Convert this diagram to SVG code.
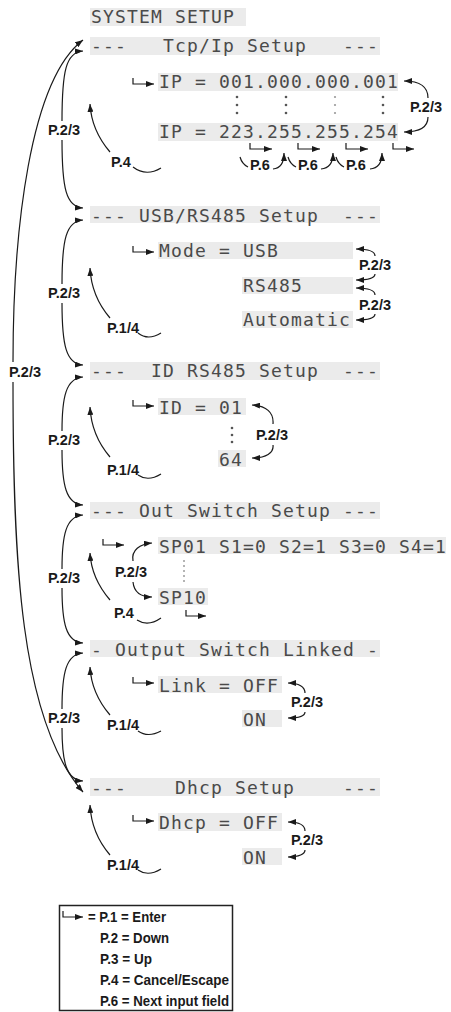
<svg xmlns="http://www.w3.org/2000/svg" width="451" height="1012" viewBox="0 0 451 1012" xml:space="preserve">
<defs>
<marker id="ah" markerWidth="8" markerHeight="6" refX="8" refY="3" orient="auto" markerUnits="userSpaceOnUse"><path d="M0,0 L8,3 L0,6 z" fill="#1a1a1a"/></marker>
<style>
.bar{fill:#ebebeb}
.lcd{font-family:"DejaVu Sans Mono","Liberation Mono",monospace;font-size:18px;letter-spacing:1.16px;fill:#4a4a4a;white-space:pre}
.lbl{font-family:"Liberation Sans",Arial,sans-serif;font-weight:bold;font-size:14.5px;fill:#1a1a1a}
.mid{text-anchor:middle}
.c{fill:none;stroke:#1a1a1a;stroke-width:1.2}
.a{marker-end:url(#ah)}
.dot{fill:#555}
</style>
</defs>
<rect width="451" height="1012" fill="#ffffff"/>

<g id="title"><rect class="bar" x="90" y="8" width="156" height="18"/><text class="lcd" x="91" y="23">SYSTEM SETUP</text></g>

<g id="tcp-header"><rect class="bar" x="90" y="37" width="290" height="18"/><text class="lcd" x="91" y="52">---   Tcp/Ip Setup   ---</text></g>
<g id="ip-first"><rect class="bar" x="158" y="73" width="240" height="18"/><text class="lcd" x="159" y="88">IP = 001.000.000.001</text></g>
<g id="ip-dots">
<circle class="dot" cx="237" cy="97" r="1.3"/><circle class="dot" cx="237" cy="105" r="1.3"/><circle class="dot" cx="237" cy="113" r="1.3"/>
<circle class="dot" cx="286" cy="97" r="1.3"/><circle class="dot" cx="286" cy="105" r="1.3"/><circle class="dot" cx="286" cy="113" r="1.3"/>
<circle class="dot" cx="335" cy="97" r="1.1" fill-opacity="0.6"/><circle class="dot" cx="335" cy="105" r="1.1" fill-opacity="0.6"/><circle class="dot" cx="335" cy="113" r="1.1" fill-opacity="0.6"/>
<circle class="dot" cx="383" cy="97" r="1.3"/><circle class="dot" cx="383" cy="105" r="1.3"/><circle class="dot" cx="383" cy="113" r="1.3"/>
</g>
<g id="ip-last"><rect class="bar" x="158" y="123" width="240" height="18"/><text class="lcd" x="159" y="138">IP = 223.255.255.254</text></g>

<g id="usb-header"><rect class="bar" x="90" y="206" width="290" height="17"/><text class="lcd" x="91" y="222">--- USB/RS485 Setup  ---</text></g>
<g id="mode-usb"><rect class="bar" x="158" y="242" width="195" height="17"/><text class="lcd" x="159" y="257">Mode = USB</text></g>
<g id="mode-rs485"><rect class="bar" x="242" y="277" width="111" height="17"/><text class="lcd" x="243" y="292">RS485</text></g>
<g id="mode-auto"><rect class="bar" x="242" y="311" width="111" height="17"/><text class="lcd" x="243" y="326">Automatic</text></g>

<g id="id-header"><rect class="bar" x="90" y="362" width="290" height="18"/><text class="lcd" x="91" y="377">---  ID RS485 Setup  ---</text></g>
<g id="id-01"><rect class="bar" x="158" y="398" width="88" height="17"/><text class="lcd" x="159" y="414">ID = 01</text></g>
<g id="id-dots"><circle class="dot" cx="232" cy="428" r="1.3"/><circle class="dot" cx="232" cy="435" r="1.3"/><circle class="dot" cx="232" cy="442" r="1.3"/></g>
<g id="id-64"><rect class="bar" x="218" y="450" width="28" height="17"/><text class="lcd" x="219" y="466">64</text></g>

<g id="out-header"><rect class="bar" x="90" y="502" width="290" height="17"/><text class="lcd" x="91" y="517">--- Out Switch Setup ---</text></g>
<g id="sp01"><rect class="bar" x="158" y="537" width="288" height="17"/><text class="lcd" x="159" y="553">SP01 S1=0 S2=1 S3=0 S4=1</text></g>
<g id="sp-dots"><circle class="dot" cx="184" cy="561" r="0.8"/><circle class="dot" cx="184" cy="566" r="0.8"/><circle class="dot" cx="184" cy="571" r="0.8"/><circle class="dot" cx="184" cy="576" r="0.8"/><circle class="dot" cx="184" cy="581" r="0.8"/></g>
<g id="sp10"><rect class="bar" x="158" y="588" width="50" height="17"/><text class="lcd" x="159" y="604">SP10</text></g>

<g id="link-header"><rect class="bar" x="90" y="640" width="290" height="17"/><text class="lcd" x="91" y="656">- Output Switch Linked -</text></g>
<g id="link-off"><rect class="bar" x="158" y="676" width="124" height="17"/><text class="lcd" x="159" y="692">Link = OFF</text></g>
<g id="link-on"><rect class="bar" x="242" y="710" width="40" height="17"/><text class="lcd" x="243" y="726">ON</text></g>

<g id="dhcp-header"><rect class="bar" x="90" y="778" width="290" height="18"/><text class="lcd" x="91" y="794">---    Dhcp Setup    ---</text></g>
<g id="dhcp-off"><rect class="bar" x="158" y="813" width="124" height="18"/><text class="lcd" x="159" y="829">Dhcp = OFF</text></g>
<g id="dhcp-on"><rect class="bar" x="242" y="848" width="40" height="17"/><text class="lcd" x="243" y="864">ON</text></g>

<g id="connectors">
<path class="c a" d="M13 362 C13 230 30 80 83 40"/>
<path class="c a" d="M13 382 C13 560 20 720 83 792"/>
<path class="c a" d="M62 121 C62 71 66 52 83 51"/>
<path class="c a" d="M62 140 C62 188 66 207 83 208"/>
<path class="c a" d="M62 284 C62 240 66 221 83 220"/>
<path class="c a" d="M62 303 C62 345 66 364 83 365"/>
<path class="c a" d="M62 431 C62 397 66 378 83 377"/>
<path class="c a" d="M62 450 C62 485 66 504 83 505"/>
<path class="c a" d="M62 569 C62 535 66 516 83 515"/>
<path class="c a" d="M62 588 C62 623 66 642 83 643"/>
<path class="c a" d="M62 709 C62 673 66 654 83 653"/>
<path class="c a" d="M62 728 C62 761 66 780 83 781"/>
<path class="c a" d="M110 152 C98 138 91 122 90 104"/>
<path class="c" d="M133 167 Q146 177 161 168"/>
<path class="c a" d="M110 318 C98 304 91 288 90 268"/>
<path class="c" d="M138 333 Q148 341 161 333"/>
<path class="c a" d="M110 457 C98 443 91 427 90 407"/>
<path class="c" d="M138 475 Q148 482 161 474"/>
<path class="c a" d="M110 600 C98 586 91 571 90 553"/>
<path class="c" d="M137 620 Q148 627 161 618"/>
<path class="c a" d="M110 715 C98 701 91 686 90 667"/>
<path class="c" d="M138 731 Q148 738 161 731"/>
<path class="c a" d="M110 855 C98 841 91 825 90 805"/>
<path class="c" d="M138 870 Q148 877 161 869"/>
<path class="c a" d="M133 78 V84 H154"/>
<path class="c a" d="M133 246 V252 H154"/>
<path class="c a" d="M133 400 V406 H154"/>
<path class="c a" d="M103 539 V545 H124"/>
<path class="c a" d="M133 677 V683 H154"/>
<path class="c a" d="M133 815 V821 H154"/>
<path class="c a" d="M186 610 V616 H206"/>
<path class="c a" d="M250 143 V149 H272"/>
<path class="c a" d="M298 143 V149 H320"/>
<path class="c a" d="M346 143 V149 H368"/>
<path class="c a" d="M393 143 V149 H414"/>
<path class="c" d="M240 157 Q242 164 248 167"/>
<path class="c a" d="M273 169 Q284 168 284 153"/>
<path class="c" d="M288 157 Q290 164 296 167"/>
<path class="c a" d="M321 169 Q333 168 333 153"/>
<path class="c" d="M336 157 Q338 164 344 167"/>
<path class="c a" d="M370 169 Q382 168 382 153"/>
<path class="c a" d="M428 98 C428 87 420 81 404 81"/>
<path class="c a" d="M428 117 C428 127 420 132 404 132"/>
<path class="c a" d="M375 256 C375 251 368 249 356 249"/>
<path class="c a" d="M375 274 C375 278 368 280 356 280"/>
<path class="c a" d="M375 295 C375 290 368 288 356 288"/>
<path class="c a" d="M375 314 C375 318 368 320 356 320"/>
<path class="c a" d="M273 424 C274 412 266 406 252 405"/>
<path class="c a" d="M273 445 C274 453 266 458 252 458"/>
<path class="c a" d="M133 561 C131 550 140 544 152 543"/>
<path class="c a" d="M133 582 C134 592 140 597 152 597"/>
<path class="c a" d="M305 693 C305 687 299 683 288 683"/>
<path class="c a" d="M305 712 C305 716 299 718 288 718"/>
<path class="c a" d="M305 831 C305 825 299 822 288 822"/>
<path class="c a" d="M305 850 C305 854 299 857 288 857"/>
</g>

<g id="labels">
<text class="lbl mid" x="25" y="377">P.2/3</text>
<text class="lbl mid" x="64" y="135">P.2/3</text>
<text class="lbl mid" x="64" y="298">P.2/3</text>
<text class="lbl mid" x="64" y="445">P.2/3</text>
<text class="lbl mid" x="64" y="583">P.2/3</text>
<text class="lbl mid" x="64" y="723">P.2/3</text>
<text class="lbl" x="111" y="167">P.4</text>
<text class="lbl" x="107" y="333">P.1/4</text>
<text class="lbl" x="107" y="475">P.1/4</text>
<text class="lbl" x="114" y="618">P.4</text>
<text class="lbl" x="107" y="730">P.1/4</text>
<text class="lbl" x="107" y="870">P.1/4</text>
<text class="lbl" x="410" y="112">P.2/3</text>
<text class="lbl" x="250" y="170">P.6</text>
<text class="lbl" x="298" y="170">P.6</text>
<text class="lbl" x="346" y="170">P.6</text>
<text class="lbl" x="359" y="270">P.2/3</text>
<text class="lbl" x="359" y="310">P.2/3</text>
<text class="lbl" x="256" y="440">P.2/3</text>
<text class="lbl" x="115" y="577">P.2/3</text>
<text class="lbl" x="291" y="707">P.2/3</text>
<text class="lbl" x="291" y="845">P.2/3</text>
</g>

<g id="legend">
<rect x="59.5" y="905.5" width="173" height="105" fill="#ffffff" stroke="#222" stroke-width="1.5"/>
<path class="c a" d="M63 911 V917 H83"/>
<text class="lbl" x="88" y="922" textLength="78" lengthAdjust="spacingAndGlyphs">= P.1 = Enter</text>
<text class="lbl" x="100" y="943" textLength="69" lengthAdjust="spacingAndGlyphs">P.2 = Down</text>
<text class="lbl" x="100" y="964" textLength="52" lengthAdjust="spacingAndGlyphs">P.3 = Up</text>
<text class="lbl" x="100" y="985" textLength="129" lengthAdjust="spacingAndGlyphs">P.4 = Cancel/Escape</text>
<text class="lbl" x="100" y="1006" textLength="129" lengthAdjust="spacingAndGlyphs">P.6 = Next input field</text>
</g>
</svg>
